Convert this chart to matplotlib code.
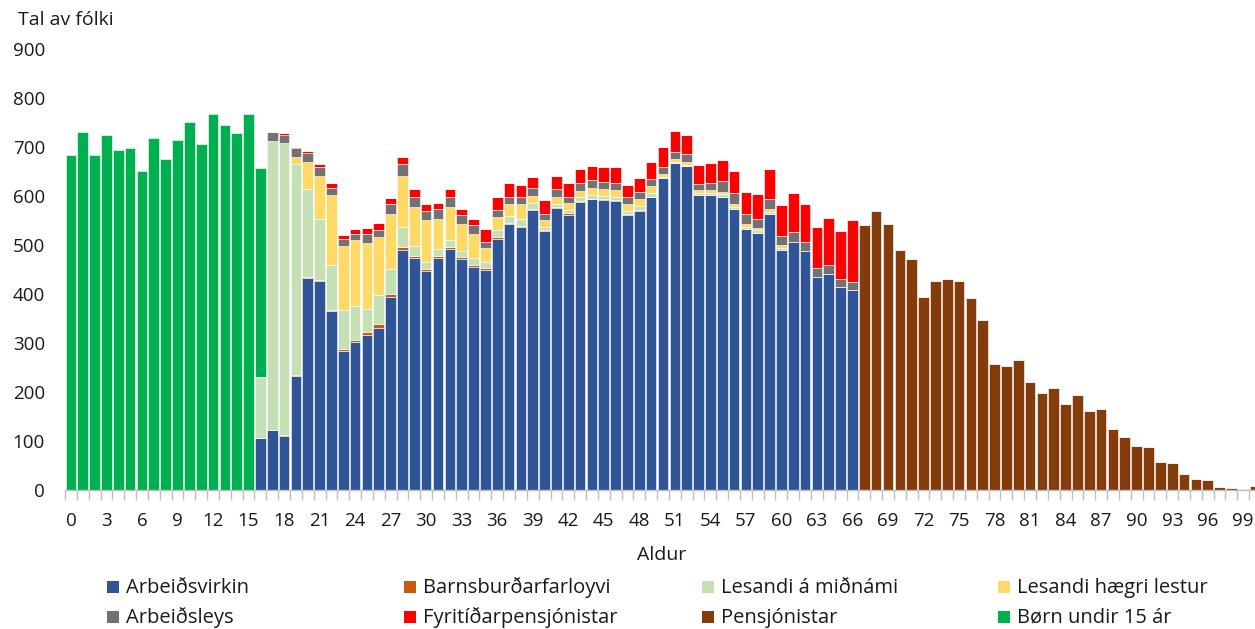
import matplotlib
matplotlib.use("Agg")
import matplotlib.pyplot as plt
from matplotlib.patches import Rectangle
import numpy as np

plt.rcParams['font.family'] = ['Open Sans', 'DejaVu Sans']
plt.rcParams['xtick.major.pad'] = 16
plt.rcParams['ytick.major.pad'] = 14.4

ages = list(range(0, 101))
xtick_ages = list(range(0, 100, 3))

series_names = ["Arbeiðsvirkin", "Barnsburðarfarloyvi", "Lesandi á miðnámi", "Lesandi hægri lestur",
                "Arbeiðsleys", "Fyritíðarpensjónistar", "Pensjónistar", "Børn undir 15 ár"]
series_colors = ["#2F5597", "#C55A11", "#C5E0B4", "#FFD966", "#767171", "#FF0000", "#843C0C", "#00B050"]

# Ages 16-66 for the working-age components
arbeidsvirkin_16_66 = [107, 122, 110, 233, 432, 427, 365, 283, 302, 315,
                       330, 394, 489, 472, 446, 472, 491, 470, 455, 449,
                       512, 542, 536, 571, 527, 575, 561, 587, 593, 592,
                       590, 561, 569, 597, 635, 666, 660, 601, 601, 598,
                       573, 533, 524, 563, 489, 506, 488, 435, 441, 413, 408]
barnsburdar_16_66 = [0, 0, 2, 2, 2, 2, 2, 4, 4, 8,
                     8, 6, 6, 5, 4, 4, 4, 4, 4, 4,
                     3, 2, 2, 2, 2, 2, 3, 2, 1, 1,
                     1, 1, 1, 1, 1, 0, 0, 0, 0, 0,
                     0, 0, 0, 0, 0, 0, 0, 0, 0, 0, 0]
midnami_16_66 = [121, 590, 595, 430, 180, 123, 91, 79, 70, 46,
                 60, 51, 42, 21, 15, 15, 15, 14, 13, 12,
                 14, 15, 15, 13, 8, 7, 7, 8, 7, 7,
                 7, 7, 9, 7, 3, 3, 3, 4, 4, 5,
                 4, 4, 5, 4, 5, 0, 0, 0, 0, 0, 0]
haegri_16_66 = [0, 0, 0, 14, 55, 89, 143, 132, 134, 135,
                117, 112, 104, 79, 85, 62, 67, 54, 49, 28,
                28, 23, 31, 14, 13, 14, 15, 13, 14, 13,
                14, 13, 14, 15, 5, 5, 5, 7, 7, 5,
                5, 5, 5, 6, 5, 0, 0, 0, 0, 0, 0]
arbeidsleys_16_66 = [2, 17, 17, 18, 18, 17, 15, 14, 11, 17,
                     15, 19, 23, 20, 19, 20, 21, 19, 19, 12,
                     14, 15, 14, 15, 13, 15, 12, 16, 16, 15,
                     13, 15, 14, 13, 15, 16, 16, 12, 13, 22,
                     23, 21, 19, 20, 19, 20, 18, 18, 18, 17, 16]
fyritidar_16_66 = [0, 0, 3, 3, 4, 6, 9, 8, 11, 13,
                   14, 13, 14, 16, 15, 12, 15, 12, 12, 27,
                   27, 28, 24, 24, 28, 28, 28, 28, 30, 31,
                   33, 25, 30, 35, 41, 42, 40, 38, 41, 42,
                   45, 45, 50, 61, 62, 80, 78, 84, 96, 97, 126]
# Ages 67-100
pensjonistar_67_100 = [540, 568, 543, 489, 471, 394, 426, 431, 426, 391,
                       346, 257, 252, 265, 220, 197, 207, 175, 194, 162,
                       165, 125, 109, 90, 88, 58, 55, 33, 22, 20,
                       7, 4, 2, 8]
# Ages 0-16
born_0_16 = [682, 730, 682, 724, 693, 698, 650, 717, 675, 713,
             750, 705, 767, 745, 728, 766, 427]

pad_lo = [0] * 16
pad_hi = [0] * 34
series = [
    pad_lo + arbeidsvirkin_16_66 + pad_hi,
    pad_lo + barnsburdar_16_66 + pad_hi,
    pad_lo + midnami_16_66 + pad_hi,
    pad_lo + haegri_16_66 + pad_hi,
    pad_lo + arbeidsleys_16_66 + pad_hi,
    pad_lo + fyritidar_16_66 + pad_hi,
    [0] * 67 + pensjonistar_67_100,
    born_0_16 + [0] * 84,
]

W, H = 1255, 629
fig = plt.figure(figsize=(W / 100, H / 100), dpi=100)
left_px, right_px = 65, 1261
top_px, bot_px = 48.5, 490
ax = fig.add_axes([left_px / W, 1 - bot_px / H, (right_px - left_px) / W, (bot_px - top_px) / H])

x = np.array(ages)
bottom = np.zeros(len(ages))
for vals, name, col in zip(series, series_names, series_colors):
    v = np.array(vals, dtype=float)
    ax.bar(x, v, bottom=bottom, width=0.9, color=col, edgecolor='white', linewidth=0.4, label=name)
    bottom += v

ax.set_xlim(-0.5, 100.5)
ax.set_ylim(0, 900)
ax.set_yticks(range(0, 901, 100))
ax.tick_params(axis='y', length=0, labelsize=13.5, labelcolor='#1a1a1a')
ax.set_xticks(xtick_ages)
ax.set_xticklabels([str(a) for a in xtick_ages])
ax.set_xticks(np.arange(-0.5, 101, 1), minor=True)
ax.tick_params(axis='x', which='major', length=0, labelsize=13.5, labelcolor='#1a1a1a')
ax.tick_params(axis='x', which='minor', length=7, width=1, color='#BFBFBF')
for s in ['top', 'right', 'left']:
    ax.spines[s].set_visible(False)
ax.spines['bottom'].set_color('#BFBFBF')
ax.spines['bottom'].set_linewidth(1)

fig.text(18 / W, 1 - 20 / H, "Tal av fólki", fontsize=14, va='center', ha='left', color='#1a1a1a')
fig.text(662 / W, 1 - 555 / H, "Aldur", fontsize=14, va='center', ha='center', color='#1a1a1a')

# Legend (two rows, four columns)
col_x = [107, 404, 702, 998]
row_y = [586.5, 616.5]
row_base = [593, 623]
order = [[0, 1, 2, 3], [4, 5, 6, 7]]
for r, idxs in enumerate(order):
    for c, i in enumerate(idxs):
        fig.patches.append(Rectangle((col_x[c] / W, 1 - (row_y[r] + 6) / H), 12 / W, 12 / H,
                                     transform=fig.transFigure, facecolor=series_colors[i],
                                     edgecolor='none'))
        fig.text((col_x[c] + 19) / W, 1 - row_base[r] / H, series_names[i], fontsize=14.5,
                 va='baseline', ha='left', color='#1a1a1a')

fig.savefig("out.png", dpi=100)
